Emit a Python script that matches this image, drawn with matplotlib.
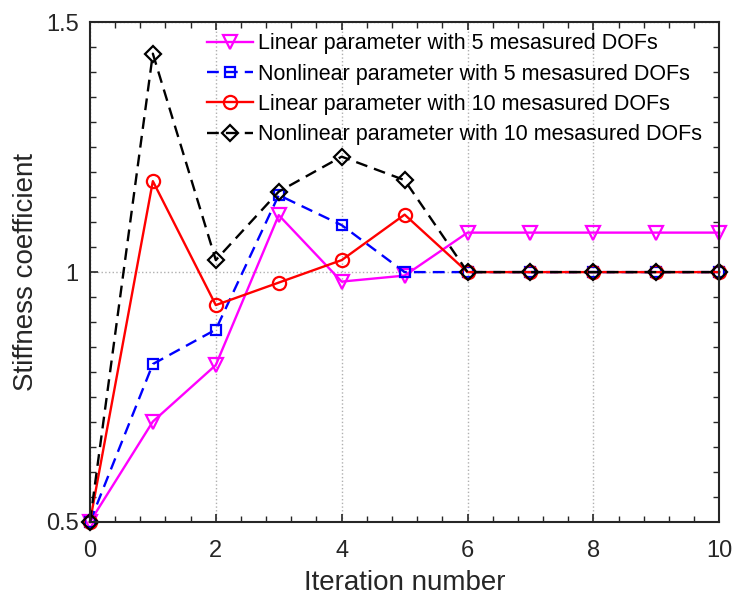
import matplotlib
matplotlib.use("Agg")
import matplotlib.pyplot as plt
from matplotlib.ticker import MultipleLocator

plt.rcParams['font.family'] = ['Liberation Sans', 'DejaVu Sans']

# iteration number
iters = [0, 1, 2, 3, 4, 5, 6, 7, 8, 9, 10]

# stiffness coefficient
lin5 = [0.5, 0.701, 0.814, 1.114, 0.981, 0.993, 1.079, 1.079, 1.079, 1.079, 1.079]
nonlin5 = [0.5, 0.816, 0.885, 1.154, 1.094, 1.0, 1.0, 1.0, 1.0, 1.0, 1.0]
lin10 = [0.5, 1.182, 0.934, 0.979, 1.024, 1.115, 1.0, 1.0, 1.0, 1.0, 1.0]
nonlin10 = [0.5, 1.437, 1.024, 1.161, 1.231, 1.184, 1.0, 1.0, 1.0, 1.0, 1.0]

labels = ["Linear parameter with 5 mesasured DOFs",
          "Nonlinear parameter with 5 mesasured DOFs",
          "Linear parameter with 10 mesasured DOFs",
          "Nonlinear parameter with 10 mesasured DOFs"]

fig = plt.figure(figsize=(7.37, 6.0), dpi=100)
ax = fig.add_axes([0.122, 0.13, 0.854, 0.833])

lw = 1.7
ax.plot(iters, lin5, color='#ff00ff', ls='-', lw=lw, marker='v', ms=10,
        mfc='none', mew=1.6, clip_on=False, label=labels[0])
ax.plot(iters, nonlin5, color='#0000ff', ls=(0, (5, 3)), lw=lw, marker='s', ms=6.5,
        mfc='none', mew=1.6, clip_on=False, label=labels[1])
ax.plot(iters, lin10, color='#ff0000', ls='-', lw=lw, marker='o', ms=9.5,
        mfc='none', mew=1.6, clip_on=False, label=labels[2])
ax.plot(iters, nonlin10, color='black', ls=(0, (5, 3)), lw=lw, marker='D', ms=8.5,
        mfc='none', mew=1.6, clip_on=False, label=labels[3])

ax.set_xlim(0, 10)
ax.set_ylim(0.5, 1.5)
ax.xaxis.set_major_locator(MultipleLocator(2))
ax.xaxis.set_minor_locator(MultipleLocator(0.4))
ax.yaxis.set_minor_locator(MultipleLocator(0.05))
ax.set_yticks([0.5, 1, 1.5])
ax.set_yticklabels(['0.5', '1', '1.5'])

ax.grid(True, which='major', ls=':', color='#b0b0b0', lw=1.0)
ax.tick_params(which='both', direction='in', top=True, right=True,
               colors='#262626', labelsize=17)
ax.tick_params(which='major', length=6, width=1.2)
ax.tick_params(which='minor', length=4, width=1.0)
ax.tick_params(axis='x', pad=13)
ax.tick_params(axis='y', pad=8)
for s in ax.spines.values():
    s.set_linewidth(1.5)
    s.set_color('#262626')

ax.set_xlabel('Iteration number', fontsize=20, color='#262626', labelpad=6)
ax.set_ylabel('Stiffness coefficient', fontsize=20, color='#262626', labelpad=5)

ax.legend(loc='upper right', bbox_to_anchor=(1.0, 1.012), frameon=False,
          fontsize=15.5, handlelength=2.15, handletextpad=0.23, labelspacing=0.43,
          borderaxespad=0.4, borderpad=0.4)

fig.savefig('out.png', dpi=100)
